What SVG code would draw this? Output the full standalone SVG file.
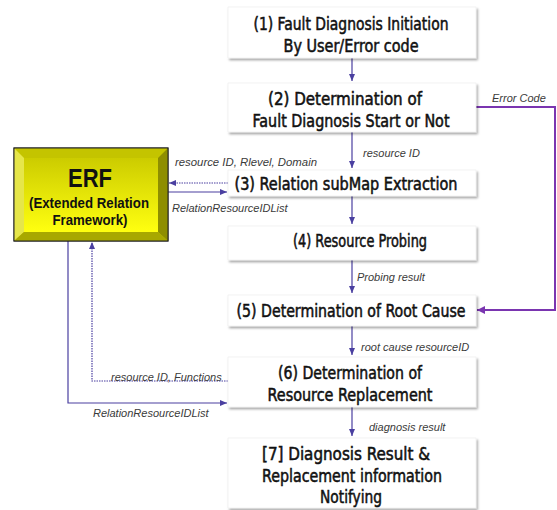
<svg xmlns="http://www.w3.org/2000/svg" width="557" height="510" viewBox="0 0 557 510">
<style>
.box{fill:#fff;stroke:#ececec;stroke-width:0.6;filter:url(#sh)}
.bt{font-family:"DejaVu Sans Condensed","Liberation Sans Narrow","Liberation Sans",sans-serif;font-size:18.5px;fill:#111;stroke:#111;stroke-width:0.55;text-anchor:middle}
.lb{font-family:"Liberation Sans",Arial,sans-serif;font-size:11px;font-style:italic;fill:#3a3a3a}
.c{fill:none;stroke:#4a3fa0;stroke-width:1.2}
.d{stroke-dasharray:1.5 1}
.p{fill:none;stroke:#7a35b0;stroke-width:2}
.erf{font-family:"Liberation Sans",Arial,sans-serif;font-weight:bold;fill:#111;text-anchor:middle}
</style>
<defs>
<filter id="sh" x="-5%" y="-10%" width="115%" height="140%">
<feDropShadow dx="1.5" dy="2" stdDeviation="1.2" flood-color="#000" flood-opacity="0.35"/>
</filter>
<marker id="a" markerWidth="8" markerHeight="8" refX="7" refY="4" orient="auto" markerUnits="userSpaceOnUse">
<path d="M0,1 L7,4 L0,7 Z" fill="#4a3fa0"/>
</marker>
<marker id="ap" markerWidth="10" markerHeight="10" refX="8" refY="5" orient="auto" markerUnits="userSpaceOnUse">
<path d="M0,1 L8,5 L0,9 Z" fill="#7a35b0"/>
</marker>
<linearGradient id="yg" x1="0" y1="0" x2="0" y2="1">
<stop offset="0" stop-color="#cccc00"/>
<stop offset="1" stop-color="#ffff10"/>
</linearGradient>
</defs>

<g id="connectors">
<path class="c" d="M352,58 V81" marker-end="url(#a)"/>
<path class="c" d="M352,132 V168" marker-end="url(#a)"/>
<path class="c" d="M352,196 V224" marker-end="url(#a)"/>
<path class="c" d="M352,260 V293" marker-end="url(#a)"/>
<path class="c" d="M352,326 V355" marker-end="url(#a)"/>
<path class="c" d="M352,407 V436" marker-end="url(#a)"/>
<path class="p" d="M476,107 H555 V310 H477" marker-end="url(#ap)"/>
<path class="c d" d="M228,183 H169" marker-end="url(#a)"/>
<path class="c" d="M168,192 H227" marker-end="url(#a)"/>
<path class="c" d="M68,241 V403 H227" marker-end="url(#a)"/>
<path class="c d" d="M228,381 H92 V242" marker-end="url(#a)"/>
<text class="lb" x="492" y="102">Error Code</text>
<text class="lb" x="363" y="157">resource ID</text>
<text class="lb" x="175" y="166" textLength="142" lengthAdjust="spacingAndGlyphs">resource ID, Rlevel, Domain</text>
<text class="lb" x="172" y="212">RelationResourceIDList</text>
<text class="lb" x="357" y="281">Probing result</text>
<text class="lb" x="361" y="351">root cause resourceID</text>
<text class="lb" x="111" y="381">resource ID, Functions</text>
<text class="lb" x="93" y="417">RelationResourceIDList</text>
<text class="lb" x="369" y="431">diagnosis result</text>
</g>

<g id="erf">
<rect x="14" y="148" width="154" height="93" fill="#c8c800" stroke="#222" stroke-width="1"/>
<polygon points="14,148 168,148 158,158 24,158" fill="#c4c400"/>
<polygon points="14,148 24,158 24,232 14,241" fill="#e6e64a"/>
<polygon points="168,148 168,241 158,232 158,158" fill="#8e8e00"/>
<polygon points="14,241 24,232 158,232 168,241" fill="#a8a800"/>
<rect x="24" y="158" width="134" height="74" fill="url(#yg)"/>
<rect x="14" y="148" width="154" height="93" fill="none" stroke="#222" stroke-width="1"/>
<text class="erf" x="90" y="187" font-size="26" textLength="44" lengthAdjust="spacingAndGlyphs">ERF</text>
<text class="erf" x="89" y="208" font-size="15.5" textLength="120" lengthAdjust="spacingAndGlyphs">(Extended Relation</text>
<text class="erf" x="90" y="225" font-size="15.5" textLength="75" lengthAdjust="spacingAndGlyphs">Framework)</text>
</g>

<g id="n1">
<rect class="box" x="228" y="7" width="248" height="51"/>
<text class="bt" x="351" y="30" textLength="195" lengthAdjust="spacingAndGlyphs">(1) Fault Diagnosis Initiation</text>
<text class="bt" x="351" y="52" textLength="135" lengthAdjust="spacingAndGlyphs">By User/Error code</text>
</g>
<g id="n2">
<rect class="box" x="228" y="83" width="248" height="49"/>
<text class="bt" x="345" y="105" textLength="154" lengthAdjust="spacingAndGlyphs">(2) Determination of</text>
<text class="bt" x="351" y="127" textLength="197" lengthAdjust="spacingAndGlyphs">Fault Diagnosis Start or Not</text>
</g>
<g id="n3">
<rect class="box" x="228" y="170" width="248" height="26"/>
<text class="bt" x="346" y="190" textLength="223" lengthAdjust="spacingAndGlyphs">(3) Relation subMap Extraction</text>
</g>
<g id="n4">
<rect class="box" x="228" y="226" width="248" height="34"/>
<text class="bt" x="360" y="247" textLength="134" lengthAdjust="spacingAndGlyphs">(4) Resource Probing</text>
</g>
<g id="n5">
<rect class="box" x="228" y="295" width="248" height="31"/>
<text class="bt" x="351" y="317" textLength="229" lengthAdjust="spacingAndGlyphs">(5) Determination of Root Cause</text>
</g>
<g id="n6">
<rect class="box" x="228" y="357" width="248" height="50"/>
<text class="bt" x="350" y="379" textLength="144" lengthAdjust="spacingAndGlyphs">(6) Determination of</text>
<text class="bt" x="350" y="400.5" textLength="165" lengthAdjust="spacingAndGlyphs">Resource Replacement</text>
</g>
<g id="n7">
<rect class="box" x="228" y="438" width="248" height="70"/>
<text class="bt" x="346" y="460" textLength="168" lengthAdjust="spacingAndGlyphs">[7] Diagnosis Result &amp;</text>
<text class="bt" x="352" y="481.5" textLength="180" lengthAdjust="spacingAndGlyphs">Replacement information</text>
<text class="bt" x="351" y="502.5" textLength="62" lengthAdjust="spacingAndGlyphs">Notifying</text>
</g>
</svg>
